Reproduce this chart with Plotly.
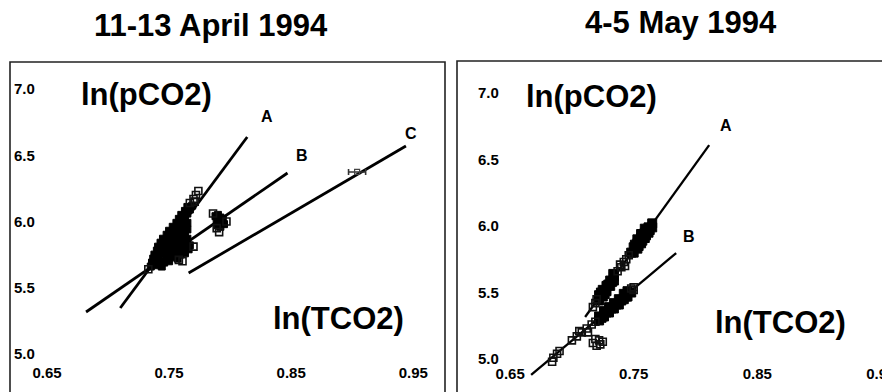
import plotly.graph_objects as go

# ---------------- data ----------------
x_tick_vals = [0.65, 0.75, 0.85, 0.95]
x_tick_text = ["0.65", "0.75", "0.85", "0.95"]
y_tick_vals = [5.0, 5.5, 6.0, 6.5, 7.0]
y_tick_text = ["5.0", "5.5", "6.0", "6.5", "7.0"]

panel_titles = ["11-13 April 1994", "4-5 May 1994"]

# Panel 1 (11-13 April 1994) regression lines
p1_lineA_x = [0.710, 0.814]
p1_lineA_y = [5.347, 6.638]
p1_lineB_x = [0.682, 0.847]
p1_lineB_y = [5.317, 6.366]
p1_lineC_x = [0.766, 0.944]
p1_lineC_y = [5.611, 6.570]

# Panel 1 observations: dense part of the main cluster
p1_dense_x = [0.735, 0.739, 0.744,
              0.736, 0.741, 0.746, 0.750,
              0.737, 0.742, 0.748, 0.752, 0.757,
              0.738, 0.744, 0.749, 0.754, 0.759, 0.763,
              0.740, 0.745, 0.751, 0.756, 0.761, 0.766,
              0.741, 0.747, 0.752, 0.758, 0.762, 0.767,
              0.743, 0.749, 0.754, 0.759, 0.764,
              0.745, 0.751, 0.756, 0.761, 0.765,
              0.748, 0.753, 0.758, 0.763,
              0.750, 0.755, 0.760, 0.765,
              0.753, 0.758, 0.763,
              0.756, 0.761, 0.765,
              0.758, 0.763,
              0.760, 0.765,
              0.763, 0.767,
              0.765, 0.769]
p1_dense_y = [5.66, 5.67, 5.66,
              5.69, 5.70, 5.69, 5.70,
              5.72, 5.73, 5.72, 5.73, 5.72,
              5.75, 5.76, 5.75, 5.76, 5.75, 5.76,
              5.78, 5.79, 5.78, 5.79, 5.78, 5.79,
              5.81, 5.82, 5.81, 5.82, 5.81, 5.82,
              5.84, 5.85, 5.84, 5.85, 5.84,
              5.87, 5.88, 5.87, 5.88, 5.87,
              5.90, 5.91, 5.90, 5.91,
              5.93, 5.94, 5.93, 5.94,
              5.96, 5.97, 5.96,
              5.99, 6.00, 5.99,
              6.02, 6.03,
              6.05, 6.06,
              6.08, 6.09,
              6.11, 6.12]
# Panel 1 observations: scattered squares around the clusters
p1_sparse_x = [0.767, 0.771, 0.770, 0.772, 0.774, 0.758, 0.761, 0.770, 0.733,
               0.786, 0.797, 0.789, 0.791]
p1_sparse_y = [6.14, 6.15, 6.17, 6.20, 6.23, 5.71, 5.70, 5.81, 5.64,
               6.06, 6.00, 5.95, 5.92]
# Panel 1 observations: cluster on line B
p1_obsB_x = [0.788, 0.790, 0.792, 0.794, 0.789, 0.791, 0.793, 0.795, 0.790, 0.792]
p1_obsB_y = [6.04, 6.05, 6.03, 6.02, 6.00, 5.99, 6.00, 5.98, 5.97, 5.96]

# Panel 1 observation on line C
p1_obsC_x = [0.904]
p1_obsC_y = [6.374]
p1_obsC_err = [0.007]

# Panel 2 (4-5 May 1994) regression lines
p2_lineA_x = [0.7107, 0.8111]
p2_lineA_y = [5.316, 6.609]
p2_lineB_x = [0.667, 0.7844]
p2_lineB_y = [4.880, 5.797]

# Panel 2 observations: dense parts
p2_dense_x = [0.750, 0.750, 0.753, 0.753, 0.753, 0.756, 0.756, 0.756,
              0.759, 0.759, 0.759, 0.762, 0.762, 0.765, 0.765, 0.751, 0.754,
              0.757, 0.760, 0.763, 0.748,
              0.722, 0.722, 0.725, 0.725, 0.728, 0.728, 0.731, 0.731,
              0.734, 0.734, 0.7235, 0.7295, 0.7325, 0.7265, 0.7335,
              0.722, 0.722, 0.726, 0.726, 0.730, 0.730, 0.734, 0.734,
              0.738, 0.738, 0.742, 0.742, 0.745, 0.745, 0.748,
              0.724, 0.728, 0.732, 0.736, 0.740, 0.744]
p2_dense_y = [5.80, 5.84, 5.83, 5.87, 5.90, 5.87, 5.91, 5.94,
              5.91, 5.95, 5.98, 5.95, 5.99, 5.99, 6.02, 5.86, 5.85,
              5.89, 5.93, 5.97, 5.80,
              5.44, 5.48, 5.47, 5.52, 5.51, 5.55, 5.55, 5.59,
              5.59, 5.62, 5.50, 5.56, 5.58, 5.49, 5.64,
              5.29, 5.32, 5.32, 5.36, 5.35, 5.39, 5.38, 5.42,
              5.41, 5.45, 5.45, 5.49, 5.47, 5.51, 5.50,
              5.31, 5.35, 5.38, 5.41, 5.44, 5.47]
# Panel 2 observations: scattered squares
p2_sparse_x = [0.737, 0.740, 0.742, 0.744, 0.746, 0.739, 0.743,
               0.717, 0.719, 0.720,
               0.748, 0.750, 0.750,
               0.700, 0.704, 0.708, 0.712, 0.716, 0.719, 0.706, 0.713,
               0.717, 0.720, 0.723, 0.725, 0.719, 0.722,
               0.685, 0.688, 0.690, 0.684]
p2_sparse_y = [5.66, 5.69, 5.73, 5.75, 5.78, 5.71, 5.70,
               5.39, 5.42, 5.45,
               5.53, 5.52, 5.54,
               5.14, 5.17, 5.20, 5.23, 5.26, 5.28, 5.21, 5.20,
               5.12, 5.10, 5.11, 5.13, 5.15, 5.14,
               5.01, 5.04, 5.06, 4.98]

# Line labels
p1_label_text = ["A", "B", "C"]
p1_label_x = [0.830, 0.859, 0.948]
p1_label_y = [6.789, 6.502, 6.668]
p2_label_text = ["A", "B"]
p2_label_x = [0.825, 0.795]
p2_label_y = [6.759, 5.925]

# ---------------- figure ----------------
FONT = "Liberation Sans, Arial, sans-serif"
fig = go.Figure()

line_style1 = dict(color="black", width=2.8)
line_style2 = dict(color="black", width=2.3)
mk_dense1 = dict(symbol="square", size=7, color="black", line=dict(width=1, color="black"))
mk_dense2 = dict(symbol="square", size=9, color="black", line=dict(width=1, color="black"))
mk_open = dict(symbol="square-open", size=7, color="#111", line=dict(width=1.6, color="#111"))

fig.add_trace(go.Scatter(x=p1_lineA_x, y=p1_lineA_y, mode="lines", line=line_style1, xaxis="x", yaxis="y"))
fig.add_trace(go.Scatter(x=p1_lineB_x, y=p1_lineB_y, mode="lines", line=line_style1, xaxis="x", yaxis="y"))
fig.add_trace(go.Scatter(x=p1_lineC_x, y=p1_lineC_y, mode="lines", line=line_style1, xaxis="x", yaxis="y"))
fig.add_trace(go.Scatter(x=p1_dense_x, y=p1_dense_y, mode="markers", marker=mk_dense1, xaxis="x", yaxis="y"))
fig.add_trace(go.Scatter(x=p1_obsB_x, y=p1_obsB_y, mode="markers", marker=mk_dense1, xaxis="x", yaxis="y"))
fig.add_trace(go.Scatter(x=p1_sparse_x, y=p1_sparse_y, mode="markers", marker=mk_open, xaxis="x", yaxis="y"))
fig.add_trace(go.Scatter(x=p1_obsC_x, y=p1_obsC_y, mode="markers",
                         marker=dict(symbol="square-open", size=5, color="#444", line=dict(width=1.2, color="#444")),
                         error_x=dict(type="data", array=p1_obsC_err, color="#333", thickness=1.6, width=3),
                         xaxis="x", yaxis="y"))

fig.add_trace(go.Scatter(x=p2_lineA_x, y=p2_lineA_y, mode="lines", line=line_style2, xaxis="x2", yaxis="y2"))
fig.add_trace(go.Scatter(x=p2_lineB_x, y=p2_lineB_y, mode="lines", line=line_style2, xaxis="x2", yaxis="y2"))
fig.add_trace(go.Scatter(x=p2_dense_x, y=p2_dense_y, mode="markers", marker=mk_dense2, xaxis="x2", yaxis="y2"))
fig.add_trace(go.Scatter(x=p2_sparse_x, y=p2_sparse_y, mode="markers", marker=mk_open, xaxis="x2", yaxis="y2"))

tickfont = dict(family=FONT, size=15, color="black", weight="bold")
common_x = dict(tickvals=x_tick_vals, ticktext=x_tick_text, ticklabelposition="inside",
                ticklabeloverflow="allow", showgrid=False, zeroline=False, showline=False,
                ticks="", tickfont=tickfont, automargin=False)
common_y = dict(tickvals=y_tick_vals, ticktext=y_tick_text, ticklabelposition="inside",
                ticklabeloverflow="allow", showgrid=False, zeroline=False, showline=False,
                ticks="", tickfont=tickfont, automargin=False)

W, H = 882, 392
fig.update_layout(
    width=W, height=H, margin=dict(l=0, r=0, t=0, b=0, pad=0, autoexpand=False),
    paper_bgcolor="white", plot_bgcolor="white", showlegend=False,
    xaxis=dict(domain=[10 / W, 445 / W], range=[0.6197, 0.976], anchor="y",
               ticklabelstandoff=8, **common_x),
    yaxis=dict(domain=[0, 330 / H], range=[4.713, 7.204], anchor="x",
               ticklabelstandoff=1, **common_y),
    xaxis2=dict(domain=[457 / W, 1.0], range=[0.607, 0.951], anchor="y2",
                ticklabelstandoff=7, **common_x),
    yaxis2=dict(domain=[0, 331 / H], range=[4.752, 7.241], anchor="x2",
                ticklabelstandoff=18, **common_y),
)

frame = dict(color="#222", width=1.6)
fig.add_shape(type="rect", xref="x domain", yref="y domain", x0=0, x1=1, y0=-0.1, y1=1, line=frame)
fig.add_shape(type="rect", xref="x2 domain", yref="y2 domain", x0=0, x1=1.1, y0=-0.1, y1=1, line=frame)

title_font = dict(family=FONT, size=31, color="black", weight="bold")
fig.add_annotation(text=panel_titles[0], xref="paper", yref="paper", x=211 / W, y=1 - 25 / H,
                   showarrow=False, font=title_font, xanchor="center", yanchor="middle")
fig.add_annotation(text=panel_titles[1], xref="paper", yref="paper", x=681 / W, y=1 - 23 / H,
                   showarrow=False, font=title_font, xanchor="center", yanchor="middle")

big_font = dict(family=FONT, size=31, color="black", weight="bold")
fig.add_annotation(text="ln(pCO2)", xref="paper", yref="paper", x=146 / W, y=1 - 95 / H,
                   showarrow=False, font=big_font, xanchor="center", yanchor="middle")
fig.add_annotation(text="ln(TCO2)", xref="paper", yref="paper", x=338 / W, y=1 - 318 / H,
                   showarrow=False, font=big_font, xanchor="center", yanchor="middle")
fig.add_annotation(text="ln(pCO2)", xref="paper", yref="paper", x=591 / W, y=1 - 96 / H,
                   showarrow=False, font=big_font, xanchor="center", yanchor="middle")
fig.add_annotation(text="ln(TCO2)", xref="paper", yref="paper", x=780 / W, y=1 - 322 / H,
                   showarrow=False, font=big_font, xanchor="center", yanchor="middle")

lab_font = dict(family=FONT, size=16, color="black", weight="bold")
for t, x, y in zip(p1_label_text, p1_label_x, p1_label_y):
    fig.add_annotation(text=t, x=x, y=y, xref="x", yref="y", showarrow=False, font=lab_font)
for t, x, y in zip(p2_label_text, p2_label_x, p2_label_y):
    fig.add_annotation(text=t, x=x, y=y, xref="x2", yref="y2", showarrow=False, font=lab_font)

fig.write_html("out.html", config={"displayModeBar": False},
               post_script="document.body.style.margin='0';document.body.style.overflow='hidden';")
